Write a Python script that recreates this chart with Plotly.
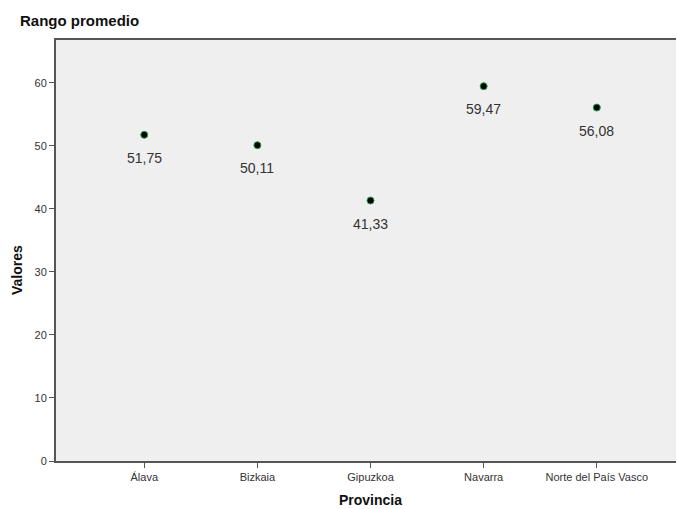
import plotly.graph_objects as go

categories = ["Álava", "Bizkaia", "Gipuzkoa", "Navarra", "Norte del País Vasco"]
values = [51.75, 50.11, 41.33, 59.47, 56.08]
y_ticks = [0, 10, 20, 30, 40, 50, 60]

W, H = 677, 509
fig = go.Figure()
fig.add_trace(go.Scatter(
    x=list(range(len(categories))), y=values, mode="markers",
    marker=dict(color="black", size=7, line=dict(color="#22a050", width=1)),
    hoverinfo="skip", showlegend=False,
))
for i, v in enumerate(values):
    fig.add_annotation(x=i, y=v, text=f"{v:.2f}".replace(".", ","), showarrow=False,
                       yshift=-23, font=dict(size=14, color="#333333"))

# titles as paper-positioned annotations
fig.add_annotation(text="<b>Rango promedio</b>", xref="paper", yref="paper",
                   x=(18 - 56) / (W - 57), y=1 + (40 - 20) / (H - 88),
                   xanchor="left", yanchor="middle", showarrow=False,
                   font=dict(size=15, color="#111111"))
fig.add_annotation(text="<b>Provincia</b>", xref="paper", yref="paper",
                   x=(370 - 56) / (W - 57), y=-(500 - 461) / (H - 88),
                   xanchor="center", yanchor="middle", showarrow=False,
                   font=dict(size=14, color="#111111"))
fig.add_annotation(text="<b>Valores</b>", xref="paper", yref="paper",
                   x=-(56 - 17) / (W - 57), y=(461 - 270) / (H - 88),
                   xanchor="center", yanchor="middle", textangle=-90, showarrow=False,
                   font=dict(size=14, color="#111111"))

font = "Liberation Sans, Arial, sans-serif"
fig.update_layout(
    width=W, height=H,
    margin=dict(l=56, r=1, t=40, b=48, autoexpand=False),
    paper_bgcolor="white", plot_bgcolor="#efefef",
    font=dict(family=font, color="#333333", size=11),
)
fig.update_xaxes(
    range=[-0.78, 4.7], tickvals=list(range(len(categories))), ticktext=categories,
    showgrid=False, zeroline=False, showline=True, linecolor="#555555", linewidth=2,
    mirror=True, ticks="outside", ticklen=5, tickcolor="#555555", tickwidth=1,
    tickfont=dict(size=11, color="#333333"), automargin=False,
)
fig.update_yaxes(
    range=[0, 66.8], tickvals=y_ticks, showgrid=False, zeroline=False,
    showline=True, linecolor="#555555", linewidth=2,
    ticks="outside", ticklen=5, tickcolor="#555555", tickwidth=1,
    tickfont=dict(size=11, color="#333333"), automargin=False,
)
fig.write_html("out.html", config={"displayModeBar": False},
               post_script="document.body.style.margin='0';")
